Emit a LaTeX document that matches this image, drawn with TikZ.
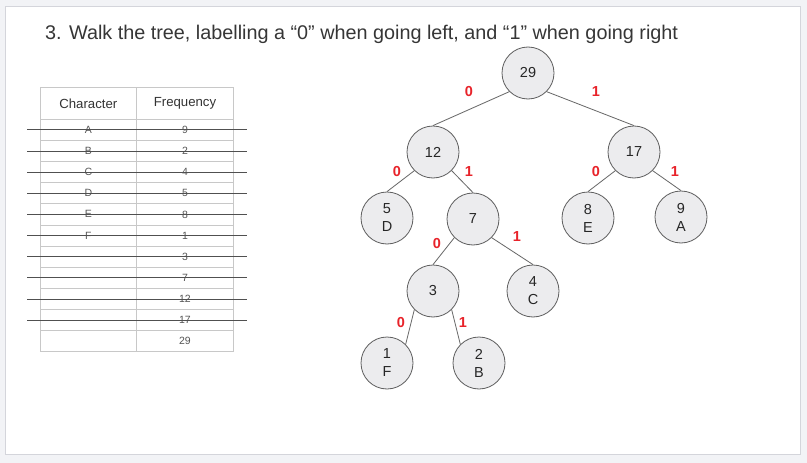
\documentclass[tikz,border=0pt]{standalone}
\usepackage{fontspec}
\setmainfont{Liberation Sans}
\definecolor{bgout}{HTML}{F2F3F6}
\definecolor{slideedge}{HTML}{D4D5DB}
\definecolor{nodefill}{HTML}{ECECEE}
\definecolor{nodeedge}{HTML}{5E5E5E}
\definecolor{edgecol}{HTML}{666666}
\definecolor{bitred}{HTML}{E8232A}
\definecolor{gridcol}{HTML}{C8C8C8}
\definecolor{strikecol}{HTML}{505050}
\definecolor{celltext}{HTML}{555555}
\definecolor{titlecol}{HTML}{363636}
\tikzset{
  treenode/.style={circle, minimum size=52pt, inner sep=0pt, fill=nodefill, draw=nodeedge, line width=0.8pt, align=center, font=\fontsize{14.5}{18}\selectfont, text=black!85},
  treeedge/.style={draw=edgecol, line width=0.8pt},
  bit/.style={text=bitred, font=\fontsize{14.5}{16}\selectfont\bfseries, inner sep=0pt},
  grid/.style={draw=gridcol, line width=0.8pt},
  strike/.style={draw=strikecol, line width=0.8pt},
  cell/.style={text=celltext, font=\fontsize{10.5}{12}\selectfont, inner sep=0pt},
  head/.style={text=black!80, font=\fontsize{13.2}{15}\selectfont, inner sep=0pt}
}
\begin{document}
\begin{tikzpicture}[x=1pt,y=-1pt]
\useasboundingbox (0,0) rectangle (807,463);
\fill[bgout] (0,0) rectangle (807,463);
\filldraw[fill=white, draw=slideedge, line width=0.8pt] (5,6) rectangle (800,454);

\node[anchor=base west, inner sep=0pt, text=titlecol, font=\fontsize{19.8}{24}\selectfont] (title) at (45,39.5) {3. Walk the tree, labelling a “0” when going left, and “1” when going right};

% table
\draw[grid] (40,87.3) rectangle (233.3,351.7);
\draw[grid] (136.7,87.3) -- (136.7,351.7);
\foreach \i in {0,...,10} {
  \draw[grid] (40,{119.3+21.13*\i}) -- (233.3,{119.3+21.13*\i});
}
\node[head] (hchar) at (88.3,103.3) {Character};
\node[head] (hfreq) at (185,103.3) {Frequency};
\foreach \c [count=\i] in {A,B,C,D,E,F} {
  \node[cell] (c\i) at (88.3,{119.3+21.13*(\i-0.5)}) {\c};
}
\foreach \f [count=\i] in {9,2,4,5,8,1,3,7,12,17,29} {
  \node[cell] (f\i) at (185,{119.3+21.13*(\i-0.5)}) {\f};
}
\foreach \i in {1,...,10} {
  \draw[strike] (27,{119.3+21.13*(\i-0.5)}) -- (247,{119.3+21.13*(\i-0.5)});
}

% tree nodes
\node[treenode] (n29) at (528,73) {29};
\node[treenode] (n12) at (433,152) {12};
\node[treenode] (n17) at (634,152) {17};
\node[treenode] (n5) at (387,218) {5\\D};
\node[treenode] (n7) at (473,219) {7};
\node[treenode] (n8) at (588,218) {8\\E};
\node[treenode] (n9) at (681,217) {9\\A};
\node[treenode] (n3) at (433,291) {3};
\node[treenode] (n4) at (533,291) {4\\C};
\node[treenode] (n1) at (387,363) {1\\F};
\node[treenode] (n2) at (479,363) {2\\B};

% edges
\draw[treeedge] (n29.south west) -- (n12.north);
\draw[treeedge] (n29.south east) -- (n17.north);
\draw[treeedge] (n12.south west) -- (n5.north);
\draw[treeedge] (n12.south east) -- (n7.north);
\draw[treeedge] (n17.south west) -- (n8.north);
\draw[treeedge] (n17.south east) -- (n9.north);
\draw[treeedge] (n7.south west) -- (n3.north);
\draw[treeedge] (n7.south east) -- (n4.north);
\draw[treeedge] (n3.south west) -- (n1.north east);
\draw[treeedge] (n3.south east) -- (n2.north west);

% bit labels
\node[bit] (b1) at (469,92) {0};
\node[bit] (b2) at (596,92) {1};
\node[bit] (b3) at (397,172) {0};
\node[bit] (b4) at (469,172) {1};
\node[bit] (b5) at (596,172) {0};
\node[bit] (b6) at (675,172) {1};
\node[bit] (b7) at (437,244) {0};
\node[bit] (b8) at (517,237) {1};
\node[bit] (b9) at (401,323) {0};
\node[bit] (b10) at (463,323) {1};
\end{tikzpicture}
\end{document}
